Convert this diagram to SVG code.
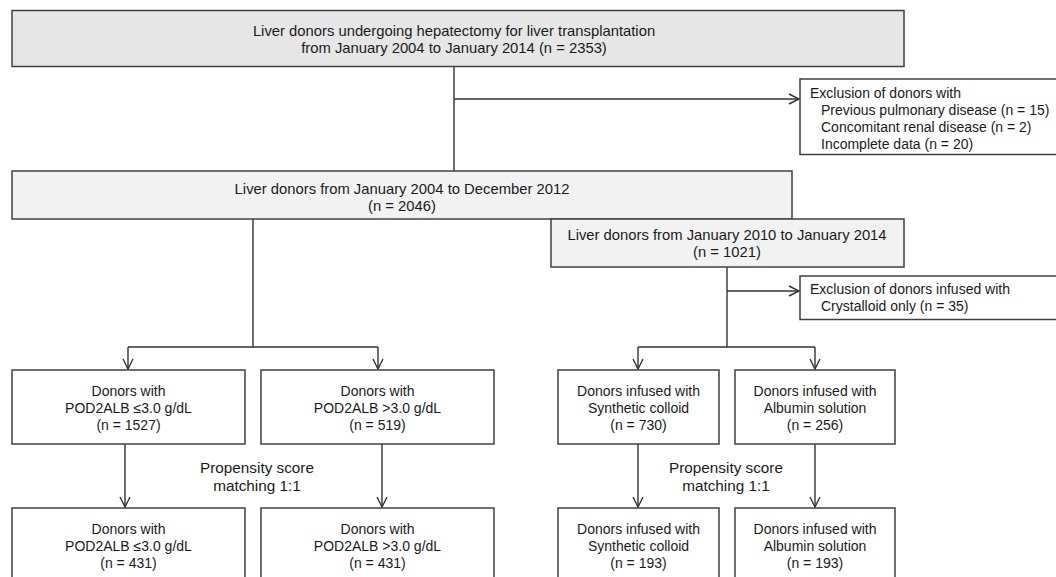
<svg xmlns="http://www.w3.org/2000/svg" width="1056" height="577" viewBox="0 0 1056 577">
<defs>
<style>
.box{stroke:#404040;stroke-width:1.5;fill:#ffffff}
.g1{fill:#e6e6e6}
.g2{fill:#f2f2f2}
text{font-family:"Liberation Sans",Arial,sans-serif;font-size:14px;fill:#1a1a1a}
.big{font-size:14.8px}
.ps{font-size:15.3px}
.c{text-anchor:middle}
.ln{stroke:#333333;stroke-width:1.4;fill:none}
</style>
<marker id="arr" viewBox="0 0 12 12" refX="11" refY="6" markerWidth="12" markerHeight="12" markerUnits="userSpaceOnUse" orient="auto">
<path d="M1,1 L11,6 L1,11" fill="none" stroke="#333333" stroke-width="1.4"/>
</marker>
</defs>
<rect width="1056" height="577" fill="#ffffff"/>
<g id="connectors">
<line class="ln" x1="454" y1="67" x2="454" y2="171"/>
<line class="ln" x1="454" y1="99" x2="799" y2="99" marker-end="url(#arr)"/>
<line class="ln" x1="253" y1="219" x2="253" y2="347"/>
<line class="ln" x1="128" y1="347" x2="378" y2="347"/>
<line class="ln" x1="128" y1="347" x2="128" y2="369" marker-end="url(#arr)"/>
<line class="ln" x1="378" y1="347" x2="378" y2="369" marker-end="url(#arr)"/>
<line class="ln" x1="727" y1="267" x2="727" y2="347"/>
<line class="ln" x1="727" y1="291" x2="799" y2="291" marker-end="url(#arr)"/>
<line class="ln" x1="638" y1="347" x2="815" y2="347"/>
<line class="ln" x1="638" y1="347" x2="638" y2="369" marker-end="url(#arr)"/>
<line class="ln" x1="815" y1="347" x2="815" y2="369" marker-end="url(#arr)"/>
<line class="ln" x1="125" y1="444" x2="125" y2="507" marker-end="url(#arr)"/>
<line class="ln" x1="382" y1="444" x2="382" y2="507" marker-end="url(#arr)"/>
<line class="ln" x1="638" y1="444" x2="638" y2="507" marker-end="url(#arr)"/>
<line class="ln" x1="815" y1="444" x2="815" y2="507" marker-end="url(#arr)"/>
</g>
<g id="top">
<rect class="box g1" x="12" y="10.5" width="892" height="56"/>
<text class="c big" x="454" y="35.5">Liver donors undergoing hepatectomy for liver transplantation</text>
<text class="c big" x="454" y="53">from January 2004 to January 2014 (n = 2353)</text>
</g>
<g id="excl1">
<rect class="box" x="800" y="79" width="258" height="75.5"/>
<text x="810" y="98">Exclusion of donors with</text>
<text x="821" y="115">Previous pulmonary disease (n = 15)</text>
<text x="821" y="132">Concomitant renal disease (n = 2)</text>
<text x="821" y="149">Incomplete data (n = 20)</text>
</g>
<g id="mid1">
<rect class="box g2" x="12" y="171" width="780" height="48"/>
<text class="c big" x="402" y="194">Liver donors from January 2004 to December 2012</text>
<text class="c big" x="402" y="211">(n = 2046)</text>
</g>
<g id="mid2">
<rect class="box g2" x="551" y="219" width="353" height="48"/>
<text class="c big" x="727" y="240">Liver donors from January 2010 to January 2014</text>
<text class="c big" x="727" y="257">(n = 1021)</text>
</g>
<g id="excl2">
<rect class="box" x="800" y="276" width="258" height="43.5"/>
<text x="810" y="294">Exclusion of donors infused with</text>
<text x="821" y="311">Crystalloid only (n = 35)</text>
</g>
<g id="a1">
<rect class="box" x="12" y="370" width="233" height="74"/>
<text class="c" x="128.5" y="396">Donors with</text>
<text class="c" x="128.5" y="413">POD2ALB ≤3.0 g/dL</text>
<text class="c" x="128.5" y="430">(n = 1527)</text>
</g>
<g id="a2">
<rect class="box" x="261" y="370" width="233" height="74"/>
<text class="c" x="377.5" y="396">Donors with</text>
<text class="c" x="377.5" y="413">POD2ALB &gt;3.0 g/dL</text>
<text class="c" x="377.5" y="430">(n = 519)</text>
</g>
<g id="b1">
<rect class="box" x="558" y="370" width="161" height="74"/>
<text class="c" x="638.5" y="396">Donors infused with</text>
<text class="c" x="638.5" y="413">Synthetic colloid</text>
<text class="c" x="638.5" y="430">(n = 730)</text>
</g>
<g id="b2">
<rect class="box" x="735" y="370" width="160" height="74"/>
<text class="c" x="815" y="396">Donors infused with</text>
<text class="c" x="815" y="413">Albumin solution</text>
<text class="c" x="815" y="430">(n = 256)</text>
</g>
<g id="ps1">
<text class="c ps" x="257" y="473">Propensity score</text>
<text class="c ps" x="257" y="491">matching 1:1</text>
</g>
<g id="ps2">
<text class="c ps" x="726" y="473">Propensity score</text>
<text class="c ps" x="726" y="491">matching 1:1</text>
</g>
<g id="c1">
<rect class="box" x="12" y="508" width="233" height="80"/>
<text class="c" x="128.5" y="534">Donors with</text>
<text class="c" x="128.5" y="551">POD2ALB ≤3.0 g/dL</text>
<text class="c" x="128.5" y="568">(n = 431)</text>
</g>
<g id="c2">
<rect class="box" x="261" y="508" width="233" height="80"/>
<text class="c" x="377.5" y="534">Donors with</text>
<text class="c" x="377.5" y="551">POD2ALB &gt;3.0 g/dL</text>
<text class="c" x="377.5" y="568">(n = 431)</text>
</g>
<g id="d1">
<rect class="box" x="558" y="508" width="161" height="80"/>
<text class="c" x="638.5" y="534">Donors infused with</text>
<text class="c" x="638.5" y="551">Synthetic colloid</text>
<text class="c" x="638.5" y="568">(n = 193)</text>
</g>
<g id="d2">
<rect class="box" x="735" y="508" width="160" height="80"/>
<text class="c" x="815" y="534">Donors infused with</text>
<text class="c" x="815" y="551">Albumin solution</text>
<text class="c" x="815" y="568">(n = 193)</text>
</g>
</svg>
